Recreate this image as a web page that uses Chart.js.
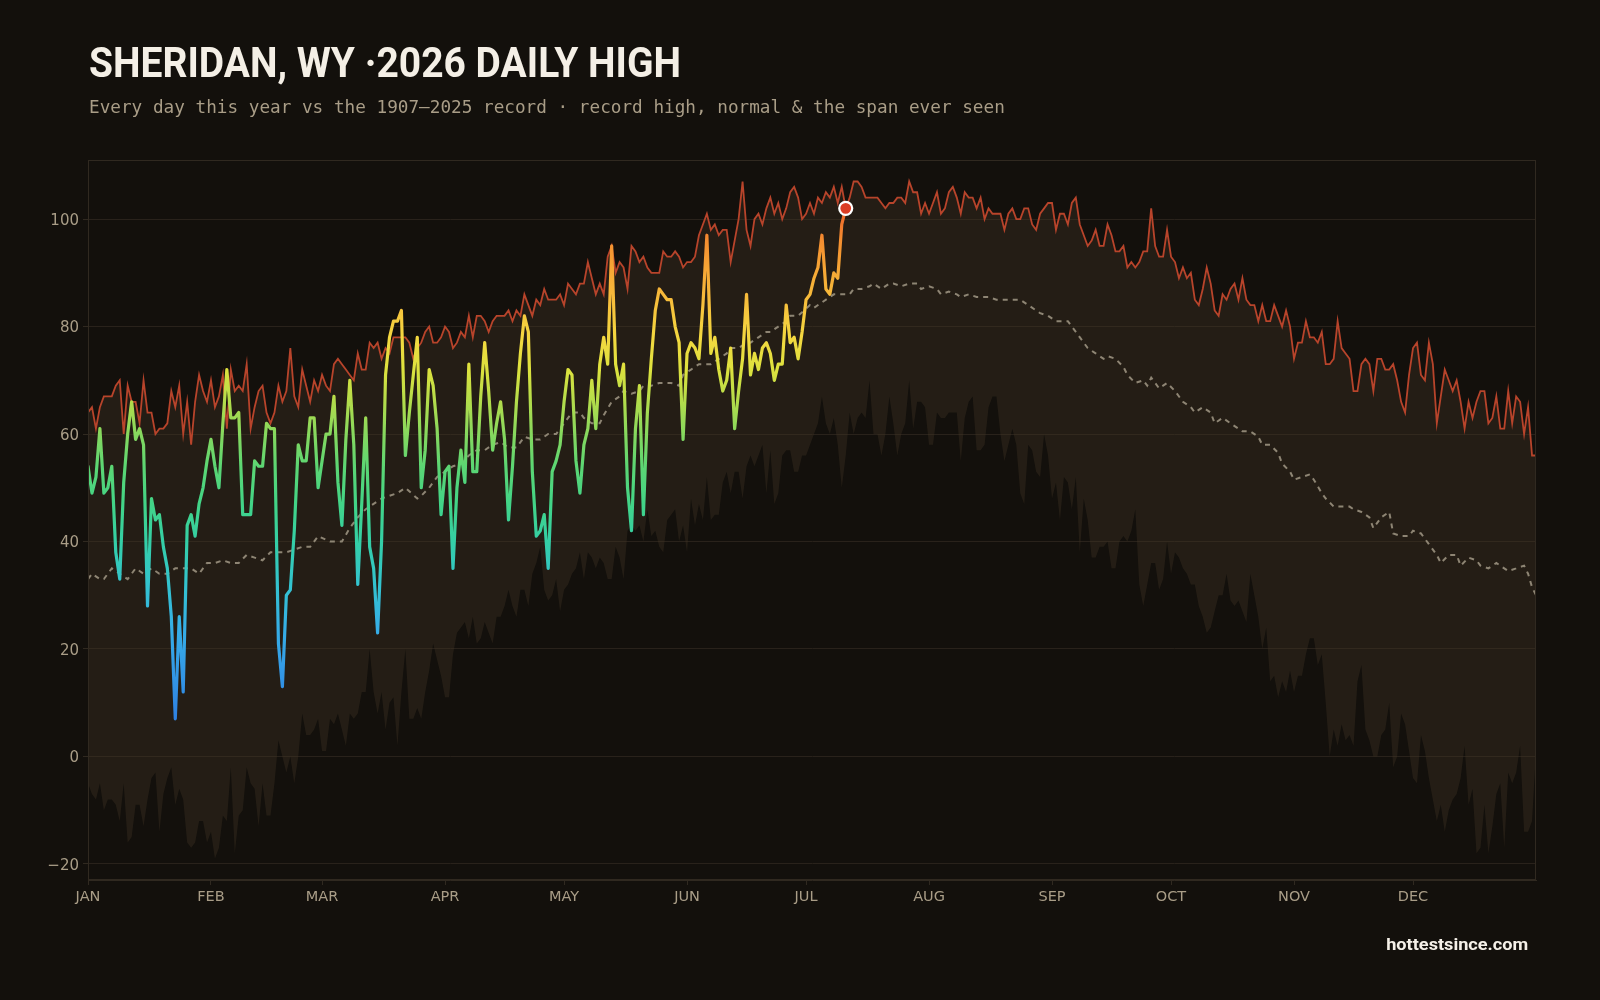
<!DOCTYPE html>
<html>
<head>
<meta charset="utf-8">
<script src="https://cdn.jsdelivr.net/npm/chart.js@4.4.1/dist/chart.umd.min.js"></script>
<style>
  html, body { margin: 0; padding: 0; background: #13100c; }
  #wrap { position: relative; width: 1600px; height: 1000px; overflow: hidden; background: #13100c; }
  #c { position: absolute; left: 0; top: 0; }
  .txt { position: absolute; white-space: nowrap; line-height: 1; }
  #title { left: 89px; top: 42px; font-family: Roboto, "DejaVu Sans", sans-serif; font-weight: 700; font-size: 42px; color: #f4efe6; transform-origin: left top; }
  #sub { left: 89px; top: 99px; font-family: "DejaVu Sans Mono", monospace; font-size: 17.7px; color: #a99d87; }
  #credit { top: 936px; font-family: Roboto, "DejaVu Sans", sans-serif; font-weight: 700; font-size: 17px; color: #f5f0e8; transform-origin: right top; }
</style>
</head>
<body>
<div id="wrap">
  <canvas id="c" width="1600" height="1000"></canvas>
  <div class="txt" id="title">SHERIDAN, WY ·2026 DAILY HIGH</div>
  <div class="txt" id="sub">Every day this year vs the 1907–2025 record · record high, normal &amp; the span ever seen</div>
  <div class="txt" id="credit">hottestsince.com</div>
</div>
<script>
// ---- DATA ----
const monthLabels = ['JAN','FEB','MAR','APR','MAY','JUN','JUL','AUG','SEP','OCT','NOV','DEC'];
const monthStarts = [0,31,59,90,120,151,181,212,243,273,304,334];
const yTicks = [-20,0,20,40,60,80,100];

// 2026 daily highs, Jan 1 .. Jul 11
const high2026 = [
  54,49,52,61,49,50,54,38,33,51,
  60,66,59,61,58,28,48,44,45,39,
  35,26,7,26,12,43,45,41,47,50,
  55,59,54,50,62,72,63,63,64,45,
  45,45,55,54,54,62,61,61,21,13,
  30,31,42,58,55,55,63,63,50,55,
  60,60,67,51,43,59,70,58,32,47,
  63,39,35,23,40,71,78,81,81,83,
  56,64,71,78,50,57,72,69,61,45,
  53,54,35,50,57,51,73,53,53,67,
  77,68,57,62,66,59,44,54,66,75,
  82,79,53,41,42,45,35,53,55,58,
  66,72,71,55,49,58,61,70,61,73,
  78,73,95,73,69,73,50,42,61,69,
  45,64,74,83,87,86,85,85,80,77,
  59,75,77,76,74,84,97,75,78,72,
  68,70,76,61,68,74,86,71,75,72,
  76,77,75,70,73,73,84,77,78,74,
  79,85,86,89,91,97,87,86,90,89,
  99,102
];

// Record high by day of year (1907-2025)
const recordHigh = [
  64,65,61,65,67,67,67,69,70,60,
  69,66,66,62,70,64,64,60,61,61,
  62,68,65,69,60,66,58,66,71,68,
  66,70,65,67,71,61,72,68,69,68,
  73,61,65,68,69,64,62,64,69,66,
  68,76,67,65,72,69,66,70,68,71,
  69,68,73,74,73,72,71,70,75,72,
  72,77,76,77,74,76,75,78,78,78,
  78,77,74,76,77,79,80,77,77,78,
  80,79,76,77,79,78,82,78,82,82,
  81,79,81,82,82,82,83,81,83,82,
  86,84,82,85,84,87,85,85,85,86,
  84,88,87,86,88,88,92,89,86,88,
  86,93,95,90,92,91,87,95,94,92,
  93,91,90,90,90,94,93,93,94,93,
  91,92,92,93,97,99,101,98,99,97,
  98,98,92,96,100,107,98,95,100,101,
  99,102,104,101,103,100,102,105,106,104,
  100,101,103,101,104,103,105,104,106,103,
  106,102,104,107,107,106,104,104,104,104,
  103,102,103,103,104,104,103,107,105,105,
  101,103,101,103,105,101,102,105,106,104,
  101,105,104,104,102,104,100,102,101,101,
  101,98,101,102,100,100,102,102,99,98,
  101,102,103,103,98,101,101,99,103,104,
  99,97,95,96,98,95,95,99,97,94,
  94,95,91,92,91,92,94,94,102,95,
  93,93,98,93,92,89,91,89,90,85,
  84,87,91,88,83,82,86,85,87,88,
  85,89,85,84,84,81,84,81,81,84,
  82,80,83,80,74,77,77,81,78,78,
  77,79,73,73,74,81,76,75,74,68,
  68,73,74,73,68,74,74,72,72,73,
  70,66,64,71,76,77,71,70,77,73,
  62,67,72,70,68,70,66,61,66,63,
  66,68,68,62,63,67,61,61,68,62,
  67,66,60,65,56,56
];

// Record low (coldest daily high) by day of year
const recordLow = [
  -5,-7,-8,-5,-10,-8,-8,-9,-12,-5,
  -16,-15,-9,-9,-13,-8,-4,-3,-14,-7,
  -4,-2,-9,-6,-8,-16,-17,-16,-12,-12,
  -16,-14,-19,-17,-11,-12,-2,-18,-11,-10,
  -2,-5,-6,-13,-5,-11,-11,-5,3,0,
  -3,0,-5,0,8,4,4,5,7,1,
  1,7,6,8,5,2,8,7,8,12,
  12,20,12,8,12,5,10,11,2,12,
  20,7,7,9,7,12,16,21,18,15,
  11,11,19,23,24,25,22,26,21,22,
  25,23,21,26,26,28,31,28,26,31,
  31,28,34,36,39,31,29,30,33,27,
  31,32,34,35,38,33,38,37,35,37,
  36,33,33,39,37,33,42,43,42,43,
  40,46,41,42,39,38,44,45,46,40,
  43,38,48,43,47,44,52,44,45,45,
  51,53,49,53,53,48,54,56,54,56,
  58,49,57,47,49,56,57,57,53,53,
  56,56,58,60,62,67,62,60,63,58,
  50,56,64,60,63,64,63,70,60,60,
  56,60,67,62,56,60,62,70,61,66,
  66,65,58,58,64,63,63,64,64,64,
  55,63,66,67,57,57,58,65,67,67,
  60,55,58,61,58,49,47,58,57,53,
  52,60,56,48,51,44,52,51,46,52,
  38,48,44,37,37,39,39,40,35,35,
  40,41,40,42,46,32,28,32,36,36,
  31,33,40,34,38,37,35,34,32,32,
  28,26,23,24,27,30,30,34,29,28,
  29,27,25,34,30,26,20,24,14,15,
  11,14,12,16,12,15,15,19,22,22,
  17,19,10,0,5,2,6,3,4,2,
  14,17,5,3,0,0,4,5,10,-2,
  0,8,6,1,-4,-5,4,1,-4,-8,
  -12,-9,-14,-10,-8,-7,-4,2,-9,-6,
  -18,-17,-9,-18,-13,-7,-5,-17,-3,-5,
  -3,2,-14,-14,-12,1
];

// Normal daily high (sampled days and values)
const normalDays = [
  0,1,3,4,6,8,10,12,14,16,
  18,20,22,24,26,28,30,32,34,36,
  38,40,42,44,46,48,50,52,54,56,
  58,61,64,66,68,70,72,74,76,78,
  80,83,84,86,88,90,92,94,96,98,
  100,102,104,106,108,110,112,114,116,118,
  120,122,124,125,127,129,130,132,134,135,
  137,139,140,142,144,146,147,149,150,152,
  154,156,157,159,161,162,164,166,167,169,
  171,172,174,176,177,179,182,183,185,187,
  188,190,192,193,195,197,198,200,202,203,
  205,207,209,210,212,214,215,217,219,220,
  222,224,225,227,229,230,232,234,235,237,
  239,240,242,244,246,247,249,251,252,254,
  256,257,259,261,262,264,266,267,268,270,
  272,274,276,278,279,281,283,284,286,288,
  290,291,293,295,296,298,300,301,303,304,
  306,308,309,311,312,314,316,318,319,321,
  323,324,326,328,329,331,333,334,336,338,
  340,341,343,345,346,348,350,351,353,355,
  356,358,360,362,363,364,365
];
const normalVals = [
  33,34,33,33,35,34,33,35,34,35,
  34,34,35,35,35,34,36,36,36.5,36,
  36,37.5,37,36.5,38,38,38,38.5,39,39,
  41,40,40,42.5,44.5,46,47,48,48.5,49,
  50,48,48.5,50,52,53,54,54.5,56,57,
  57,58,58.5,57.5,57.5,59.5,59,59,60,60,
  62,64,64,63,62,62,63.5,66,67,68,
  67.5,68,69,69,69.5,69.5,69.5,69,71,72,
  73,73,73,74,75,76,76,77,77,78,
  79,79,80,81,82,82,84,83.5,84.5,85.5,
  86,86,86,87,87,87.5,88,87,88,88,
  87.5,88,88,87,87.5,87,86,86.5,86,85.5,
  86,85.5,85.5,85.5,85,85,85,85,85,84,
  83,82.5,82,81,81,81,79,77,76,75,
  74,74.5,74,72.5,71,69.5,70,69,70.5,68.5,
  69.5,68,66,65,64,65,64,62,63,62,
  61,60.5,60.5,59.5,58,58,56.5,54.5,53,51.5,
  52,52.5,51.5,49,48,46.5,46.5,46.5,46,45.5,
  44.5,42.5,44.5,45.5,41.5,41,41,42,41.5,39.5,
  37.5,36,37.5,37.5,35.5,37,36.5,35.5,35,36,
  35.5,34.5,35,35.5,34,31.5,30
];

// ---- STYLE ----
const tempStops = [
  [0,'#2b74dc'],[8,'#2f84e2'],[16,'#3399e6'],[24,'#36afe6'],[32,'#33c3cf'],
  [40,'#34cfa6'],[47,'#42d487'],[54,'#5cd673'],[60,'#86d85e'],[66,'#b2dc4b'],
  [72,'#dde23e'],[78,'#f3d840'],[84,'#f7c13c'],[90,'#f6a936'],[96,'#f48e30'],
  [101,'#ee6a2b'],[110,'#e04a26']
];
const tickColor = '#a99d87';
const gridColor = '#29221b';
const frameColor = '#302920';

function tempGradient(context) {
  const chart = context.chart;
  const { ctx, chartArea, scales } = chart;
  if (!chartArea) return '#5cd673';
  const y = scales.y;
  const y0 = y.getPixelForValue(0), y1 = y.getPixelForValue(110);
  const g = ctx.createLinearGradient(0, y0, 0, y1);
  tempStops.forEach(([v, c]) => g.addColorStop(v / 110, c));
  return g;
}

const pts = arr => arr.map((v, i) => ({ x: i, y: v }));
const normalPts = normalDays.map((d, i) => ({ x: d, y: normalVals[i] }));
const lastIdx = high2026.length - 1;

const framePlugin = {
  id: 'frame',
  afterDraw(chart) {
    const { ctx, chartArea: a } = chart;
    ctx.save();
    ctx.strokeStyle = frameColor;
    ctx.lineWidth = 1;
    ctx.strokeRect(Math.round(a.left) + 0.5, Math.round(a.top) + 0.5,
                   Math.round(a.right - a.left) - 1, Math.round(a.bottom - a.top) - 1);
    ctx.restore();
  }
};

new Chart(document.getElementById('c'), {
  type: 'line',
  data: {
    datasets: [
      { label: 'Record low', data: pts(recordLow), borderWidth: 0, borderColor: 'rgba(0,0,0,0)',
        pointRadius: 0, fill: false, order: 5 },
      { label: 'Record high', data: pts(recordHigh), borderColor: '#b8442b', borderWidth: 1.8,
        pointRadius: 0, fill: { target: 0 }, backgroundColor: 'rgba(66,52,36,0.38)', order: 4 },
      { label: 'Normal', data: normalPts, borderColor: '#8e8574', borderWidth: 2,
        borderDash: [5, 5], pointRadius: 0, fill: false, order: 3 },
      { label: '2026', data: pts(high2026), borderColor: tempGradient, borderWidth: 3.2,
        borderJoinStyle: 'round', borderCapStyle: 'round', pointRadius: 0, fill: false, order: 2 },
      { label: 'Latest', data: [{ x: lastIdx, y: high2026[lastIdx] }], showLine: false,
        pointRadius: 6.5, pointBackgroundColor: '#dc3d24', pointBorderColor: '#ffffff',
        pointBorderWidth: 2.2, order: 1 }
    ]
  },
  options: {
    responsive: false,
    animation: false,
    events: [],
    layout: { padding: { left: 0, top: 160, right: 64, bottom: 80 } },
    plugins: { legend: { display: false }, tooltip: { enabled: false }, title: { display: false } },
    elements: { line: { tension: 0 } },
    scales: {
      x: {
        type: 'linear', min: 0, max: 365,
        afterBuildTicks: s => { s.ticks = monthStarts.map(v => ({ value: v })); },
        afterFit: s => { s.height = 40; },
        grid: { drawOnChartArea: false, drawTicks: true, tickLength: 5, color: frameColor },
        border: { display: true, color: frameColor },
        ticks: {
          autoSkip: false, maxRotation: 0, padding: 4, color: tickColor,
          font: { family: 'DejaVu Sans', size: 14.5 },
          callback: v => monthLabels[monthStarts.indexOf(v)] || ''
        }
      },
      y: {
        type: 'linear', min: -23, max: 111,
        afterBuildTicks: s => { s.ticks = yTicks.map(v => ({ value: v })); },
        afterFit: s => { s.width = 88; },
        grid: { color: gridColor, lineWidth: 1, drawTicks: true, tickLength: 5, tickColor: frameColor },
        border: { display: true, color: frameColor },
        ticks: {
          padding: 4, labelOffset: 2, color: tickColor,
          font: { family: 'DejaVu Sans', size: 15 },
          callback: v => (v < 0 ? '\u2212' + Math.abs(v) : String(v))
        }
      }
    }
  },
  plugins: [framePlugin]
});

// fit text widths to the reference layout
function fitWidth(id, target) {
  const el = document.getElementById(id);
  const w = el.getBoundingClientRect().width;
  if (w > 0) el.style.transform = 'scaleX(' + (target / w) + ')';
}
fitWidth('title', 592);
const credit = document.getElementById('credit');
credit.style.left = (1528 - credit.getBoundingClientRect().width) + 'px';
fitWidth('credit', 142);
</script>
</body>
</html>
